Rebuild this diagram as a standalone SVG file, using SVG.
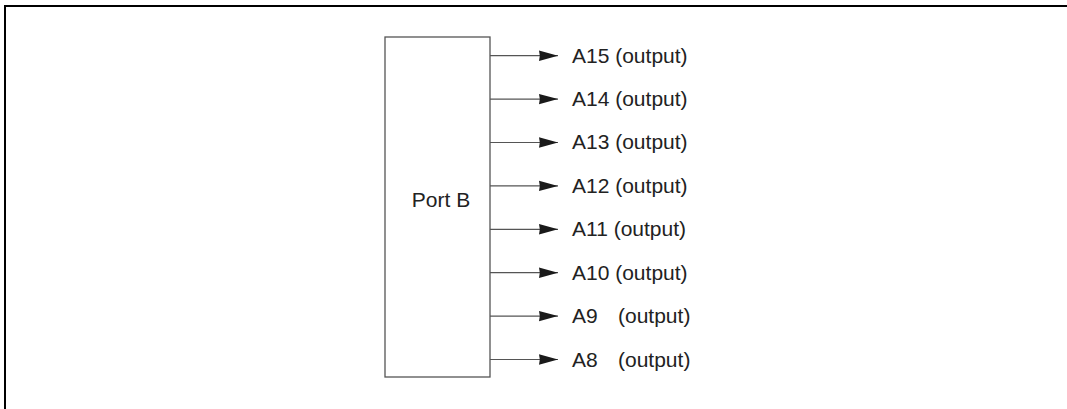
<svg xmlns="http://www.w3.org/2000/svg" width="1067" height="409" viewBox="0 0 1067 409">
<style>
.lbl{font-family:"Liberation Sans",Arial,sans-serif;font-size:21px;fill:#222}
.wire{stroke:#555;stroke-width:1.2;fill:none}
</style>
<defs>
<marker id="ah" viewBox="0 0 19 12" refX="19" refY="6" markerWidth="19" markerHeight="12" markerUnits="userSpaceOnUse" orient="auto">
<path d="M0,0.8 L19,6 L0,11.2 L0.8,6 Z" fill="#1a1a1a"/>
</marker>
</defs>
<rect width="1067" height="409" fill="#fff"/>
<path d="M5,409 V6 H1067" stroke="#000" stroke-width="2" fill="none"/>
<g id="portB">
<rect x="385" y="37" width="105" height="340" fill="#fff" stroke="#555" stroke-width="1.3"/>
<text class="lbl" x="441" y="207" text-anchor="middle">Port B</text>
</g>
<g id="connectors">
<line class="wire" x1="490" y1="55.7" x2="558" y2="55.7" marker-end="url(#ah)"/>
<line class="wire" x1="490" y1="99.1" x2="558" y2="99.1" marker-end="url(#ah)"/>
<line class="wire" x1="490" y1="142.5" x2="558" y2="142.5" marker-end="url(#ah)"/>
<line class="wire" x1="490" y1="185.9" x2="558" y2="185.9" marker-end="url(#ah)"/>
<line class="wire" x1="490" y1="229.3" x2="558" y2="229.3" marker-end="url(#ah)"/>
<line class="wire" x1="490" y1="272.7" x2="558" y2="272.7" marker-end="url(#ah)"/>
<line class="wire" x1="490" y1="316.1" x2="558" y2="316.1" marker-end="url(#ah)"/>
<line class="wire" x1="490" y1="359.5" x2="558" y2="359.5" marker-end="url(#ah)"/>
</g>
<g id="A15"><text class="lbl" x="572" y="62.5">A15 (output)</text></g>
<g id="A14"><text class="lbl" x="572" y="105.9">A14 (output)</text></g>
<g id="A13"><text class="lbl" x="572" y="149.4">A13 (output)</text></g>
<g id="A12"><text class="lbl" x="572" y="192.8">A12 (output)</text></g>
<g id="A11"><text class="lbl" x="572" y="236.2">A11 (output)</text></g>
<g id="A10"><text class="lbl" x="572" y="279.6">A10 (output)</text></g>
<g id="A9"><text class="lbl" x="572" y="323.1">A9<tspan x="618">(output)</tspan></text></g>
<g id="A8"><text class="lbl" x="572" y="366.5">A8<tspan x="618">(output)</tspan></text></g>
</svg>
